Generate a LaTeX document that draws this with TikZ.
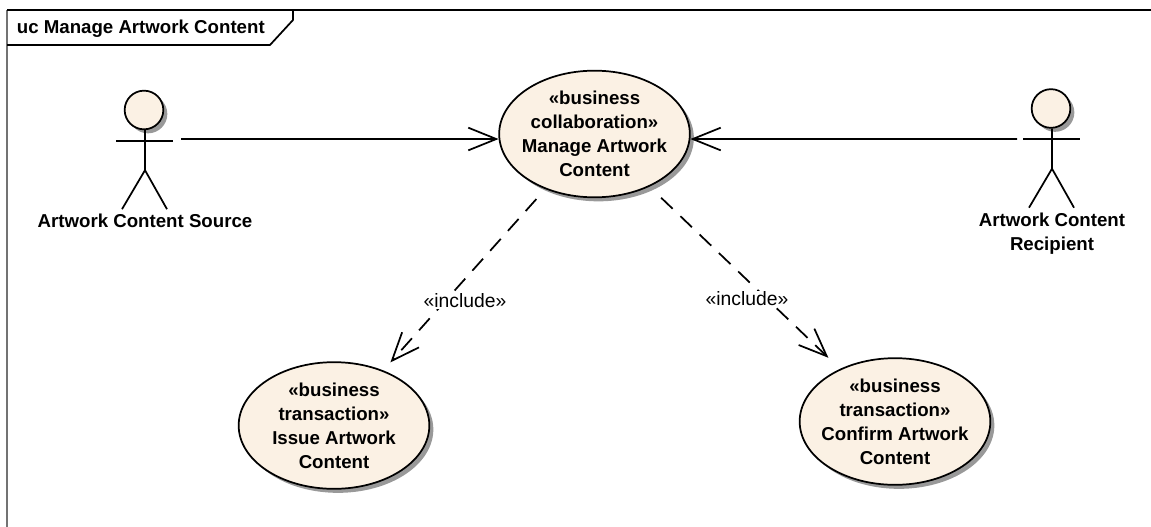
\documentclass[tikz,border=0pt]{standalone}
\usepackage{fontspec}
\setmainfont{Liberation Sans}
\usetikzlibrary{arrows.meta,shapes.geometric,shadows}
\definecolor{ucfill}{HTML}{FBF1E4}
\begin{document}
\begin{tikzpicture}[x=0.75pt, y=-0.75pt, line width=1.3pt,
    usecase/.style={ellipse, draw, fill=ucfill, inner sep=-7pt, minimum width=143pt, minimum height=95pt, align=center, font=\bfseries\fontsize{14}{18}\selectfont, execute at begin node=\rule{0pt}{14.2pt}, drop shadow={shadow xshift=3pt, shadow yshift=-3pt, fill=black!50, opacity=0.8}},
    actorhead/.style={circle, draw, fill=ucfill, inner sep=0pt, minimum size=29pt, drop shadow={shadow xshift=3pt, shadow yshift=-3pt, fill=black!50, opacity=0.8}},
    actorname/.style={align=center, inner sep=0pt, font=\bfseries\fontsize{14}{18}\selectfont},
    stereo/.style={fill=white, inner sep=1pt, font=\fontsize{14.5}{16}\selectfont},
    assoc/.style={-{Straight Barb[length=21pt, width=17pt]}},
    incl/.style={assoc, dash pattern=on 12pt off 8pt}]
    \useasboundingbox (0,0) rectangle (1151,527);
    % Diagram frame and its tab
    \draw[black!55, line width=1.5pt] (7,527) -- (7,10);
    \draw (7,10) -- (1151,10);
    \draw (7,10) -- (293,10) -- (293,20) -- (270,45) -- (7,45);
    \node[anchor=west, inner sep=0pt, font=\bfseries\fontsize{14}{18}\selectfont] (frametitle) at (16,29) {uc Manage Artwork Content};
    % Use cases
    \node[usecase] (mainuc) at (594.5,134) {«business\\collaboration»\\Manage Artwork\\Content};
    \node[usecase] (issueuc) at (334,425.5) {«business\\transaction»\\Issue Artwork\\Content};
    \node[usecase] (confirmuc) at (895,421.5) {«business\\transaction»\\Confirm Artwork\\Content};
    % Actors
    \foreach \name/\hx/\hy in {src/144/110, rcp/1051/108.5} {
        \node[actorhead] (\name head) at (\hx,\hy) {};
        \draw (\name head.south) ++(1,0) -- ++(0,40) coordinate (\name hip) -- ++(-23,39);
        \draw (\name hip) -- ++(22,39);
        \draw (\name head.south) ++(-28,10.5) -- ++(57,0);
    }
    \node[actorname] (srcname) at (145,221) {Artwork Content Source};
    \node[actorname] (rcpname) at (1052,234) {Artwork Content\\Recipient};
    % Connectors
    \coordinate (srcport) at (181,139);
    \coordinate (rcpport) at (1017,139);
    \draw[assoc] (srcport) -- (mainuc.183);
    \draw[assoc] (rcpport) -- (mainuc.357);
    \draw[incl, shorten <=10pt, shorten >=8pt] (mainuc) -- (issueuc);
    \draw[incl, shorten <=12pt, shorten >=12pt] (mainuc) -- (confirmuc);
    \node[stereo] (inclissue) at (465,301) {«include»};
    \node[stereo] (inclconfirm) at (747,299) {«include»};
\end{tikzpicture}
\end{document}
